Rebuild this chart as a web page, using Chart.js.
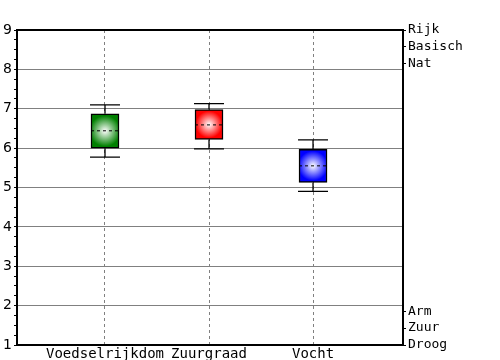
<!DOCTYPE html>
<html>
<head>
<meta charset="utf-8">
<script src="https://cdn.jsdelivr.net/npm/chart.js@4"></script>
<style>
  body { margin: 0; background: #fff; }
  #wrap { width: 500px; height: 360px; }
</style>
</head>
<body>
<div id="wrap"><canvas id="chart" width="500" height="360"></canvas></div>
<script>
// data
const categories = ['Voedselrijkdom', 'Zuurgraad', 'Vocht'];
const whiskerLow = [5.77, 5.98, 4.90];
const boxLow = [6.00, 6.22, 5.13];
const medians = [6.44, 6.59, 5.55];
const boxHigh = [6.87, 6.98, 5.97];
const whiskerHigh = [7.10, 7.13, 6.21];
const boxColors = ['#008000', '#ff0000', '#0000ff'];
const rightLabels = ['Rijk', 'Basisch', 'Nat', 'Arm', 'Zuur', 'Droog'];
const rightPositions = [9, 8.57, 8.14, 1.86, 1.43, 1];

const boxData = categories.map((c, i) => ({ x: i + 1, y: [boxLow[i], boxHigh[i]] }));

// radial gradient for each box, using the chart scales
function boxFill(ctx) {
    const chart = ctx.chart;
    const i = ctx.dataIndex;
    const xs = chart.scales.x, ys = chart.scales.y;
    if (!chart.chartArea || i === undefined) return boxColors[0];
    const cx = xs.getPixelForValue(i + 1);
    const top = ys.getPixelForValue(boxHigh[i]);
    const bot = ys.getPixelForValue(boxLow[i]);
    const cy = (top + bot) / 2;
    const r = Math.max(28, bot - top) * 0.45;
    const g = chart.ctx.createRadialGradient(cx, cy, 0, cx, cy, r);
    g.addColorStop(0, '#ffffff');
    g.addColorStop(1, boxColors[i]);
    return g;
}

// whiskers, caps and median lines
const whiskerPlugin = {
    id: 'whiskers',
    afterDatasetsDraw(chart) {
        const c = chart.ctx;
        const xs = chart.scales.x, ys = chart.scales.y;
        c.save();
        c.strokeStyle = '#000';
        categories.forEach((cat, i) => {
            const x = xs.getPixelForValue(i + 1);
            const yWl = ys.getPixelForValue(whiskerLow[i]);
            const yWh = ys.getPixelForValue(whiskerHigh[i]);
            const yQ1 = ys.getPixelForValue(boxLow[i]);
            const yQ3 = ys.getPixelForValue(boxHigh[i]);
            const yM = ys.getPixelForValue(medians[i]);
            c.lineWidth = 1.3;
            c.setLineDash([]);
            c.beginPath();
            c.moveTo(x, yQ3); c.lineTo(x, yWh);
            c.moveTo(x, yQ1); c.lineTo(x, yWl);
            c.moveTo(x - 15, yWh); c.lineTo(x + 15, yWh);
            c.moveTo(x - 15, yWl); c.lineTo(x + 15, yWl);
            c.stroke();
            c.lineWidth = 1;
            c.setLineDash([3, 3]);
            c.beginPath();
            c.moveTo(x - 14, yM); c.lineTo(x + 14, yM);
            c.stroke();
        });
        c.restore();
    },
    afterDraw(chart) {
        const a = chart.chartArea;
        const c = chart.ctx;
        c.save();
        c.strokeStyle = '#000';
        c.lineWidth = 2;
        c.strokeRect(a.left, a.top, a.right - a.left, a.bottom - a.top);
        c.restore();
    }
};

new Chart(document.getElementById('chart').getContext('2d'), {
    type: 'bar',
    data: {
        datasets: [{
            data: boxData,
            backgroundColor: boxFill,
            borderColor: '#000',
            borderWidth: 1.5,
            borderSkipped: false,
            barThickness: 28
        }]
    },
    options: {
        responsive: false,
        animation: false,
        layout: { padding: { top: 30, left: 0, right: 0, bottom: 0 } },
        plugins: {
            legend: { display: false },
            tooltip: { enabled: false }
        },
        scales: {
            x: {
                type: 'linear',
                min: 0.154,
                max: 3.865,
                offset: false,
                afterBuildTicks: s => { s.ticks = categories.map((c, i) => ({ value: i + 1 })); },
                afterFit: s => { s.height = 15; },
                ticks: {
                    autoSkip: false,
                    maxRotation: 0,
                    padding: 1,
                    color: '#000',
                    font: { family: 'DejaVu Sans Mono', size: 14 },
                    callback: (v) => categories[Math.round(v) - 1]
                },
                grid: { color: '#808080', drawTicks: false, lineWidth: 1, offset: false },
                border: { display: false, dash: [3, 3] }
            },
            y: {
                min: 1,
                max: 9,
                position: 'left',
                afterFit: s => { s.width = 17; },
                ticks: {
                    stepSize: 0.25,
                    autoSkip: false,
                    padding: 2,
                    color: '#000',
                    font: { family: 'DejaVu Sans', size: 14 },
                    callback: v => Number.isInteger(v) ? String(v) : ''
                },
                grid: {
                    color: ctx => (ctx.tick && Number.isInteger(ctx.tick.value)) ? '#808080' : 'rgba(0,0,0,0)',
                    tickColor: '#000',
                    tickLength: 3,
                    lineWidth: 1
                },
                border: { display: false }
            },
            y2: {
                min: 1,
                max: 9,
                position: 'right',
                afterBuildTicks: s => { s.ticks = rightPositions.map(v => ({ value: v })); },
                afterFit: s => { s.width = 97; },
                ticks: {
                    autoSkip: false,
                    padding: 2,
                    color: '#000',
                    font: { family: 'DejaVu Sans Mono', size: 13 },
                    callback: (v, i) => rightLabels[i]
                },
                grid: { drawOnChartArea: false, tickColor: '#000', tickLength: 3 },
                border: { display: false }
            }
        }
    },
    plugins: [whiskerPlugin]
});
</script>
</body>
</html>
